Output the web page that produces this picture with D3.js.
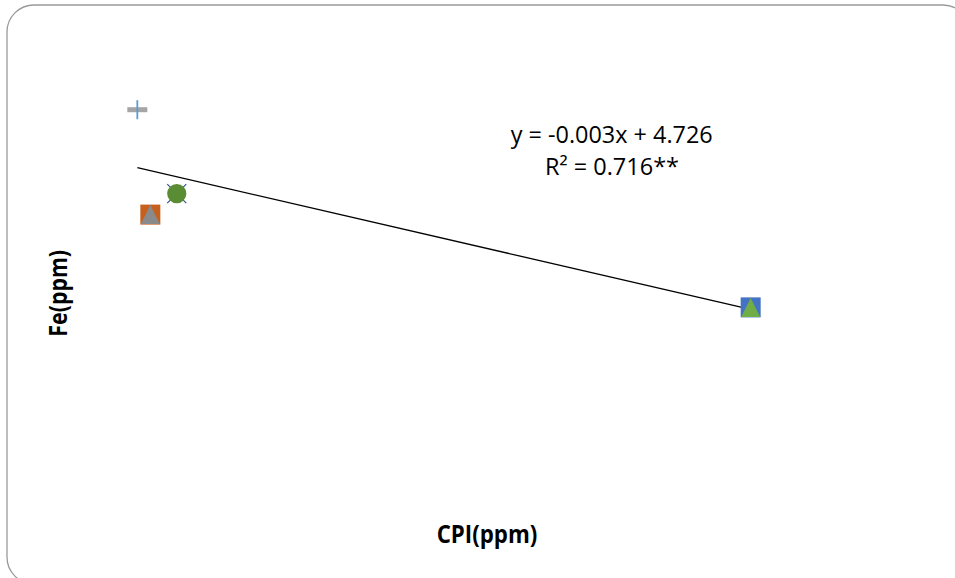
<!DOCTYPE html>
<html>
<head>
<meta charset="utf-8">
<script src="https://cdn.jsdelivr.net/npm/d3@7"></script>
<style>
  html, body { margin: 0; padding: 0; background: #fff; }
  svg { display: block; }
  text { font-family: "Open Sans", "Noto Sans", sans-serif; fill: #000; }
</style>
</head>
<body>
<svg id="chart" width="955" height="578"></svg>
<script>
// ---- data ----
const cpiValues = [15, 15, 27.4, 27.4, 52.6, 52.6, 600, 600];
const feValues  = [5.40, 5.40, 4.10, 4.10, 4.36, 4.36, 2.95, 2.95];
const trendSlope = -0.003;
const trendIntercept = 4.726;
const trendRange = [15, 600];
const equationLines = ["y = -0.003x + 4.726", "R² = 0.716**"];
const xTitle = "CPI(ppm)";
const yTitle = "Fe(ppm)";

// ---- styles ----
const markerShapes = ["dash", "plus", "square", "triangle", "x", "circle", "square", "triangle"];
const markerColors = ["#a5a5a5", "#5b9bd5", "#c5601f", "#8a8a8a", "#2f5597", "#5a8d33", "#4472c4", "#70ad47"];

const svg = d3.select("#chart");

// chart border
svg.append("rect")
  .attr("x", 7).attr("y", 5)
  .attr("width", 963).attr("height", 579)
  .attr("rx", 27).attr("ry", 27)
  .attr("fill", "#fff")
  .attr("stroke", "#9a9a9a")
  .attr("stroke-width", 1.3);

const x = d3.scaleLinear().domain([0, 650]).range([121.6, 803.1]);
const y = d3.scaleLinear().domain([0, 6]).range([545.4, 61.3]);

// trendline
const trendData = trendRange.map(v => [v, trendSlope * v + trendIntercept]);
svg.append("path")
  .datum(trendData)
  .attr("d", d3.line().x(d => x(d[0])).y(d => y(d[1])))
  .attr("fill", "none")
  .attr("stroke", "#000")
  .attr("stroke-width", 1.3);

// markers
const pts = cpiValues.map((c, i) => ({ c, f: feValues[i], shape: markerShapes[i], color: markerColors[i] }));
const s = 10; // half size
pts.forEach(p => {
  const cx = x(p.c), cy = y(p.f);
  const g = svg.append("g").attr("transform", `translate(${cx},${cy})`);
  if (p.shape === "dash") {
    g.append("rect").attr("x", -s).attr("y", -2.5).attr("width", 2 * s).attr("height", 5).attr("fill", p.color);
  } else if (p.shape === "plus") {
    g.append("line").attr("x1", 0).attr("x2", 0).attr("y1", -9.5).attr("y2", 9.5)
      .attr("stroke", p.color).attr("stroke-width", 1.8);
  } else if (p.shape === "square") {
    g.append("rect").attr("x", -s).attr("y", -s).attr("width", 2 * s).attr("height", 2 * s)
      .attr("fill", p.color);
  } else if (p.shape === "triangle") {
    g.append("path").attr("d", `M0,${-s + 0.5}L${s - 0.5},${s - 0.5}L${-s + 0.5},${s - 0.5}Z`)
      .attr("fill", p.color);
  } else if (p.shape === "x") {
    g.append("path").attr("d", `M${-9.5},${-9.5}L9.5,9.5M9.5,${-9.5}L${-9.5},9.5`)
      .attr("stroke", p.color).attr("stroke-width", 1.2).attr("fill", "none");
  } else if (p.shape === "circle") {
    g.append("circle").attr("r", 9.6).attr("fill", p.color);
  }
});

// equation
svg.append("text").attr("x", 611.7).attr("y", 143.3)
  .attr("text-anchor", "middle").attr("font-size", 23.6)
  .attr("textLength", 202).attr("lengthAdjust", "spacingAndGlyphs")
  .text(equationLines[0]);
svg.append("text").attr("x", 612).attr("y", 174.5)
  .attr("text-anchor", "middle").attr("font-size", 23.6)
  .attr("textLength", 134).attr("lengthAdjust", "spacingAndGlyphs")
  .text(equationLines[1]);

// axis titles (height matched by size, width by textLength)
svg.append("text").attr("x", 487).attr("y", 542.7)
  .attr("text-anchor", "middle").attr("font-weight", "bold").attr("font-size", 24.5)
  .attr("textLength", 100.6).attr("lengthAdjust", "spacingAndGlyphs")
  .text(xTitle);
svg.append("text")
  .attr("transform", "translate(66.7,293.3) rotate(-90)")
  .attr("text-anchor", "middle").attr("font-weight", "bold").attr("font-size", 24.5)
  .attr("textLength", 86.7).attr("lengthAdjust", "spacingAndGlyphs")
  .text(yTitle);
</script>
</body>
</html>
